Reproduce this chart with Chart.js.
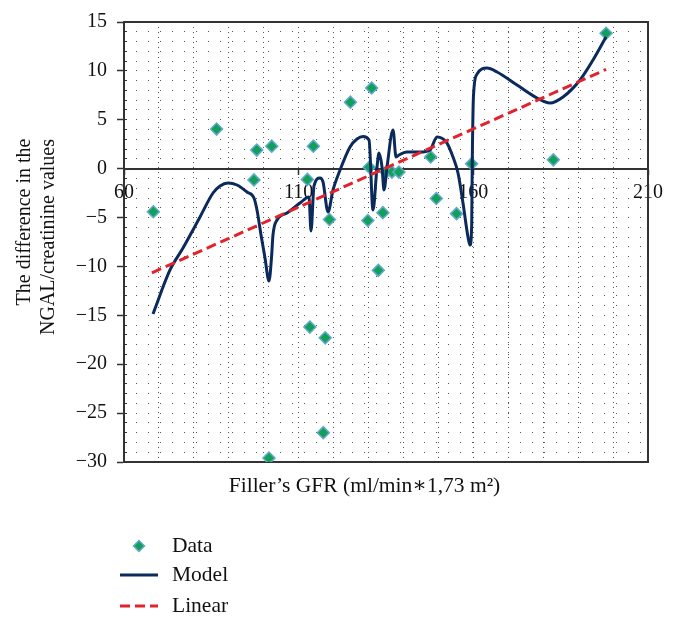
<!DOCTYPE html>
<html>
<head>
<meta charset="utf-8">
<script src="https://cdn.jsdelivr.net/npm/chart.js"></script>
<style>
  html, body { margin: 0; padding: 0; background: #fff; }
  #wrap { width: 674px; height: 625px; }
</style>
</head>
<body>
<div id="wrap"><canvas id="chart1" width="674" height="625"></canvas></div>
<script>
// measured points (Filler's GFR vs difference in NGAL/creatinine)
const dataX = [68.4, 86.5, 97.2, 98.0, 101.5, 102.3, 112.5, 113.2, 114.2, 117.05, 117.6, 118.8, 124.8,
  129.8, 130.2, 130.9, 132.8, 134.1, 135.0, 136.7, 138.7, 147.8, 149.4, 155.2, 159.5, 182.9, 198.0];
const dataY = [-4.4, 4.05, -1.15, 1.9, -29.6, 2.3, -1.1, -16.2, 2.3, -27.0, -17.3, -5.2, 6.8,
  -5.3, 0.15, 8.25, -10.4, -4.5, -0.35, -0.35, -0.35, 1.2, -3.05, -4.6, 0.5, 0.9, 13.85];

// model curve
const modelX = [68.30, 73.17, 76.89, 79.75, 81.76, 85.48, 87.48, 89.77, 92.35, 95.21, 97.21, 98.07,
  99.22, 100.36, 101.51, 102.22, 102.65, 103.80, 106.66, 110.38, 112.96, 113.53, 114.39, 116.11,
  116.97, 118.40, 119.83, 121.84, 124.70, 126.70, 128.42, 130.14, 131.28, 132.43, 133.00, 133.86,
  134.43, 135.29, 137.01, 137.87, 138.72, 141.01, 144.73, 147.60, 149.60, 152.46, 154.18, 155.61,
  157.04, 158.47, 159.05, 159.53, 159.70, 160.05, 161.05, 163.91, 166.78, 172.50, 178.23, 181.95,
  185.67, 190.54, 194.26, 197.98];
const modelY = [-14.86, -10.36, -8.12, -6.27, -4.94, -2.49, -1.77, -1.46, -1.67, -2.39, -3.00, -4.23,
  -6.78, -9.13, -11.48, -9.13, -6.78, -5.25, -4.54, -3.52, -2.90, -6.37, -1.77, -0.95,
  -1.36, -4.43, -2.18, -0.14, 2.22, 3.03, 3.29, 2.93, -4.23, 0.17, 1.60, 0.17,
  -2.18, 0.17, 3.95, 1.20, 1.40, 1.70, 1.70, 1.91, 3.24, 2.62, 1.19, -0.44,
  -3.51, -6.99, -7.81, -5.76, 0.89, 7.52, 9.67, 10.29, 9.89, 8.56, 7.23, 6.71,
  7.33, 9.07, 11.11, 13.47];

// linear fit, both ends
const linearX = [68, 198];
const linearY = [-10.65, 10.15];

const xTickLabels = [60, 110, 160, 210];
const yTickLabels = [15, 10, 5, 0, -5, -10, -15, -20, -25, -30];

const serif = '"Liberation Serif", "DejaVu Serif", serif';
const axisColor = '#333';
const dotColor = '#555';
const nb = n => '\u00a0'.repeat(n);   // padding to nudge centred titles

const toPts = (xs, ys) => xs.map((x, i) => ({x: x, y: ys[i]}));

// legend stacked under the plot, like the original
const stackLegend = {
  id: 'stackLegend',
  afterDraw(chart) {
    const ctx = chart.ctx;
    const rows = [546, 575, 606];
    ctx.save();
    chart.data.datasets.forEach((d, i) => {
      const y = rows[i];
      if (d.pointStyle === 'rectRot') {
        ctx.beginPath();
        ctx.moveTo(139, y - 5.5);
        ctx.lineTo(144.5, y);
        ctx.lineTo(139, y + 5.5);
        ctx.lineTo(133.5, y);
        ctx.closePath();
        ctx.fillStyle = d.backgroundColor;
        ctx.fill();
        ctx.lineWidth = d.borderWidth;
        ctx.strokeStyle = d.borderColor;
        ctx.stroke();
      } else {
        ctx.beginPath();
        ctx.setLineDash(d.borderDash || []);
        ctx.lineWidth = d.borderWidth;
        ctx.strokeStyle = d.borderColor;
        ctx.moveTo(120, y);
        ctx.lineTo(158, y);
        ctx.stroke();
        ctx.setLineDash([]);
      }
      ctx.font = '21.5px ' + serif;
      ctx.fillStyle = '#111';
      ctx.textBaseline = 'middle';
      ctx.textAlign = 'left';
      ctx.fillText(d.label, 172, y);
    });
    ctx.restore();
  }
};

const ctx = document.querySelector('#chart1').getContext('2d');
const chart = new Chart(ctx, {
  type: 'scatter',
  data: {
    datasets: [{
      label: 'Data',
      data: toPts(dataX, dataY),
      pointStyle: 'rectRot',
      pointRadius: 6,
      backgroundColor: '#12a058',
      borderColor: '#62a9cf',
      borderWidth: 1.5,
      order: 3
    }, {
      label: 'Model',
      type: 'line',
      data: toPts(modelX, modelY),
      borderColor: '#0b2a5c',
      borderWidth: 3,
      pointRadius: 0,
      cubicInterpolationMode: 'monotone',
      fill: false,
      order: 2
    }, {
      label: 'Linear',
      type: 'line',
      data: toPts(linearX, linearY),
      borderColor: '#e3232b',
      borderWidth: 3,
      borderDash: [10, 5],
      pointRadius: 0,
      fill: false,
      order: 1
    }]
  },
  options: {
    responsive: false,
    animation: false,
    layout: { padding: { left: 0, top: 22, right: 26, bottom: 123 } },
    plugins: { legend: { display: false }, tooltip: { enabled: false } },
    scales: {
      x: {
        type: 'linear', position: 'bottom', min: 60, max: 210,
        ticks: { display: false, stepSize: 10 },
        grid: { drawTicks: false, color: dotColor, lineWidth: 1 },
        border: { color: axisColor, width: 2, dash: [1, 4] },
        title: { display: true, text: 'Filler’s GFR (ml/min∗1,73 m²)' + nb(8), color: '#111',
          font: { family: serif, size: 21.5 }, padding: { top: 0, bottom: 3 } },
        afterFit: s => { s.height = 40; }
      },
      xTop: {
        type: 'linear', position: 'top', min: 60, max: 210,
        ticks: { display: false }, grid: { display: false },
        border: { color: axisColor, width: 2 },
        afterFit: s => { s.height = 0; }
      },
      x0: {
        type: 'linear', axis: 'x', position: { y: 0 }, min: 60, max: 210,
        afterBuildTicks: s => { s.ticks = xTickLabels.map(v => ({ value: v })); },
        ticks: { color: '#111', font: { family: serif, size: 20 }, padding: 7, maxRotation: 0 },
        grid: { drawOnChartArea: false, tickLength: 5, tickColor: axisColor, tickWidth: 1.5 },
        border: { color: axisColor, width: 2 }
      },
      y: {
        type: 'linear', position: 'left', min: -30, max: 15,
        afterBuildTicks: s => { s.ticks = yTickLabels.map(v => ({ value: v })); },
        ticks: { color: '#111', font: { family: serif, size: 20 }, padding: 10,
          callback: v => String(v).replace('-', '−') },
        grid: { drawOnChartArea: false, tickLength: 7, tickColor: axisColor, tickWidth: 1.5 },
        border: { color: axisColor, width: 2 },
        title: { display: true,
          text: [nb(8) + 'The difference in the', nb(2) + 'NGAL/creatinine values'],
          color: '#111', font: { family: serif, size: 20 }, padding: { top: 13, bottom: 0 } },
        afterFit: s => { s.width = 124; }
      },
      yMinor: {
        type: 'linear', axis: 'y', position: { x: 60.86 }, min: -30, max: 15,
        ticks: { display: false, stepSize: 1 },
        grid: { drawOnChartArea: false, tickLength: 3, tickColor: axisColor, tickWidth: 1 },
        border: { display: false }
      },
      y2: {
        type: 'linear', position: 'right', min: -30, max: 15,
        ticks: { display: false, stepSize: 1 },
        grid: { drawTicks: false, color: dotColor, lineWidth: 1 },
        border: { color: axisColor, width: 2, dash: [1, 11] },
        afterFit: s => { s.width = 0; }
      }
    }
  },
  plugins: [stackLegend]
});
</script>
</body>
</html>
